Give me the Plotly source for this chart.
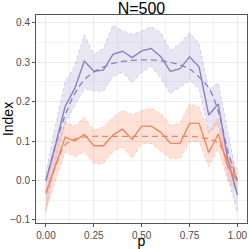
import plotly.graph_objects as go

p = [round(i * 0.05, 2) for i in range(21)]

purple_mean = [0.0, 0.09, 0.188, 0.233, 0.303, 0.277, 0.28, 0.32, 0.328, 0.312, 0.329, 0.335, 0.314, 0.277, 0.284, 0.314, 0.288, 0.166, 0.194, 0.052, -0.037]
purple_upper = [0.018, 0.14, 0.25, 0.29, 0.37, 0.32, 0.335, 0.394, 0.38, 0.37, 0.38, 0.39, 0.375, 0.33, 0.347, 0.375, 0.347, 0.23, 0.248, 0.12, 0.0]
purple_lower = [-0.08, 0.05, 0.145, 0.188, 0.233, 0.227, 0.227, 0.263, 0.275, 0.248, 0.275, 0.29, 0.26, 0.22, 0.237, 0.254, 0.233, 0.12, 0.145, 0.01, -0.083]
purple_fit = [0.0, 0.09, 0.165, 0.22, 0.255, 0.275, 0.288, 0.297, 0.302, 0.305, 0.306, 0.306, 0.304, 0.3, 0.293, 0.283, 0.262, 0.235, 0.175, 0.075, 0.0]

orange_mean = [-0.033, 0.04, 0.11, 0.1, 0.117, 0.088, 0.088, 0.115, 0.13, 0.104, 0.138, 0.138, 0.122, 0.094, 0.094, 0.145, 0.145, 0.071, 0.118, 0.035, -0.002]
orange_upper = [0.0, 0.08, 0.149, 0.138, 0.16, 0.128, 0.136, 0.16, 0.178, 0.166, 0.178, 0.183, 0.17, 0.14, 0.145, 0.194, 0.187, 0.123, 0.157, 0.068, 0.026]
orange_lower = [-0.075, 0.0, 0.073, 0.06, 0.073, 0.043, 0.043, 0.073, 0.085, 0.056, 0.094, 0.094, 0.074, 0.056, 0.056, 0.098, 0.098, 0.035, 0.081, 0.0, -0.03]
orange_fit = [-0.03, 0.035, 0.09, 0.105, 0.11, 0.112, 0.112, 0.112, 0.112, 0.112, 0.112, 0.112, 0.112, 0.112, 0.112, 0.112, 0.11, 0.105, 0.095, 0.05, 0.0]

x_ticks = [0, 0.25, 0.5, 0.75, 1.0]
x_labels = ["0.00", "0.25", "0.50", "0.75", "1.00"]
y_ticks = [-0.1, 0.0, 0.1, 0.2, 0.3, 0.4]
y_labels = ["\u22120.1", "0.0", "0.1", "0.2", "0.3", "0.4"]

PURPLE = "#8a80c2"
PURPLE_EDGE = "rgba(138,128,194,0.5)"
PURPLE_FILL = "rgba(138,128,194,0.2)"
ORANGE = "#f4845f"
ORANGE_EDGE = "rgba(244,132,95,0.5)"
ORANGE_FILL = "rgba(250,140,100,0.25)"
FONT = "Liberation Sans, Arial, sans-serif"

fig = go.Figure()

def band(upper, lower, line_color, fill_color):
    fig.add_trace(go.Scatter(x=p, y=upper, mode="lines",
                             line=dict(color=line_color, width=0.7, dash="dot"),
                             hoverinfo="skip", showlegend=False))
    fig.add_trace(go.Scatter(x=p, y=lower, mode="lines", fill="tonexty",
                             fillcolor=fill_color,
                             line=dict(color=line_color, width=0.7, dash="dot"),
                             hoverinfo="skip", showlegend=False))

band(purple_upper, purple_lower, PURPLE_EDGE, PURPLE_FILL)
band(orange_upper, orange_lower, ORANGE_EDGE, ORANGE_FILL)

fig.add_trace(go.Scatter(x=p, y=purple_mean, mode="lines",
                         line=dict(color=PURPLE, width=1.4), showlegend=False))
fig.add_trace(go.Scatter(x=p, y=purple_fit, mode="lines",
                         line=dict(color=PURPLE, width=1.3, dash="6px,4px", shape="spline"),
                         showlegend=False))
fig.add_trace(go.Scatter(x=p, y=orange_mean, mode="lines",
                         line=dict(color=ORANGE, width=1.4), showlegend=False))
fig.add_trace(go.Scatter(x=p, y=orange_fit, mode="lines",
                         line=dict(color=ORANGE, width=1.3, dash="6px,4px", shape="spline"),
                         showlegend=False))

axis_common = dict(
    automargin=False,
    showgrid=True, gridcolor="#ebebeb", gridwidth=0.8,
    zeroline=False, showline=True, linecolor="#555555", linewidth=1, mirror=True,
    ticks="outside", ticklen=3, tickcolor="#555555",
    tickfont=dict(family=FONT, size=10, color="#4d4d4d"),
)

fig.update_xaxes(range=[-0.052, 1.05], tickvals=x_ticks, ticktext=x_labels,
                 minor=dict(tickvals=[0.125, 0.375, 0.625, 0.875], showgrid=True,
                            gridcolor="#f3f3f3", gridwidth=0.5, ticks=""),
                 title=dict(text="p", font=dict(family=FONT, size=14, color="black"), standoff=0),
                 **axis_common)
fig.update_yaxes(range=[-0.108, 0.42], tickvals=y_ticks, ticktext=y_labels,
                 minor=dict(tickvals=[-0.05, 0.05, 0.15, 0.25, 0.35], showgrid=True,
                            gridcolor="#f3f3f3", gridwidth=0.5, ticks=""),
                 title=dict(text="Index", font=dict(family=FONT, size=14, color="black"), standoff=2),
                 **axis_common)

fig.update_layout(
    width=249, height=249,
    margin=dict(l=36, r=2, t=15, b=26, autoexpand=False),
    paper_bgcolor="white", plot_bgcolor="white",
    title=dict(text="N=500", x=0.568, xanchor="center", y=0.967, yanchor="middle",
               font=dict(family=FONT, size=16, color="black")),
    showlegend=False,
)

fig.write_html("out.html", config={"displayModeBar": False},
               post_script="document.body.style.margin='0';document.body.style.padding='0';document.body.style.overflow='hidden';")
